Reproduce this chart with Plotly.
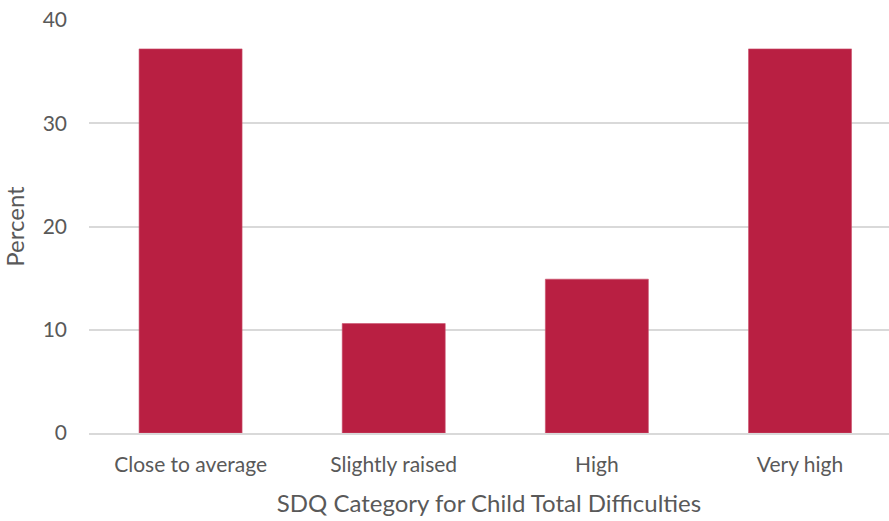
import plotly.graph_objects as go

categories = ["Close to average", "Slightly raised", "High", "Very high"]
percent = [37.2, 10.6, 14.9, 37.2]

bar_color = "#B91F42"
text_color = "#595959"
grid_color = "#D9D9D9"

fig = go.Figure(
    go.Bar(
        x=categories,
        y=percent,
        marker=dict(color=bar_color, line=dict(color="#C9506B", width=0.6)),
        width=0.507,
    )
)

fig.update_layout(
    width=889,
    height=521,
    margin=dict(l=89, r=0, t=20, b=88),
    paper_bgcolor="white",
    plot_bgcolor="white",
    font=dict(family="Lato, Noto Sans, sans-serif", color=text_color),
    showlegend=False,
    xaxis=dict(
        range=[-0.5, 3.438],
        showgrid=False,
        showline=True,
        linecolor=grid_color,
        linewidth=1.5,
        ticks="",
        ticklabelstandoff=12,
        tickfont=dict(size=21, color=text_color),
        title=dict(
            text="SDQ Category for Child Total Difficulties",
            font=dict(size=24, color=text_color),
            standoff=20,
        ),
    ),
    yaxis=dict(
        range=[0, 40],
        tickvals=[0, 10, 20, 30, 40],
        showgrid=True,
        gridcolor=grid_color,
        gridwidth=1.5,
        zeroline=False,
        showline=False,
        ticks="",
        ticklabelstandoff=21,
        tickfont=dict(size=21, color=text_color),
        title=dict(text="Percent", font=dict(size=24, color=text_color), standoff=12),
    ),
)

fig.write_html("out.html")
